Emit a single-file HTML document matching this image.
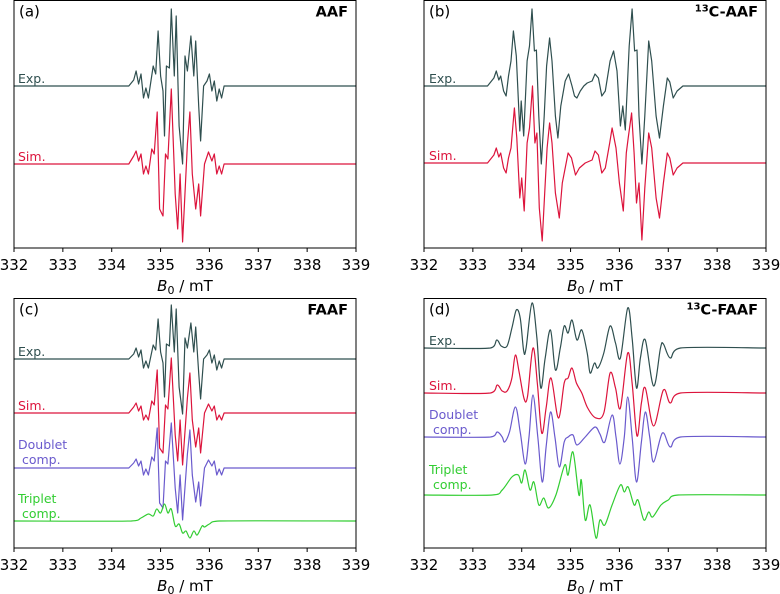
<!DOCTYPE html>
<html><head><meta charset="utf-8"><style>
body{margin:0;background:#fff;}
svg{display:block;font-family:"DejaVu Sans","Liberation Sans",sans-serif;}
</style></head><body>
<svg id="fig" width="780" height="594" viewBox="0 0 780 594" xmlns="http://www.w3.org/2000/svg"></svg>
<script>
// ---- data: field (mT) and signal amplitude (arbitrary units) ----
const aExpB=[332,334.35,334.45,334.5,334.55,334.6,334.65,334.7,334.75,334.85,334.9,334.95,335.0,335.05,335.08,335.12,335.18,335.22,335.28,335.32,335.38,335.45,335.5,335.55,335.62,335.68,335.72,335.78,335.82,335.88,335.95,336.0,336.05,336.1,336.15,336.2,336.25,336.3,339];
const aExpV=[0,0,6,15,2,12,-12,-2,-12,20,12,55,10,-5,-50,20,18,77,10,70,-40,-78,30,15,50,10,45,-20,-55,0,5,12,-5,5,-15,-3,-12,0,0];
const aSimB=[332,334.35,334.45,334.5,334.55,334.6,334.65,334.7,334.75,334.82,334.87,334.93,334.98,335.05,335.1,335.15,335.22,335.3,335.35,335.4,335.45,335.55,335.6,335.65,335.72,335.78,335.82,335.9,335.98,336.05,336.1,336.15,336.2,336.25,336.3,339];
const aSimV=[0,0,8,13,3,10,-10,-2,-10,15,10,52,-45,-52,10,5,75,-30,-65,-10,-78,20,52,-10,-45,-20,-52,0,12,3,10,-10,-2,-10,0,0];

const bExpB=[332,333.3,333.43,333.48,333.53,333.57,333.63,333.68,333.73,333.78,333.83,333.89,333.96,333.99,334.04,334.11,334.16,334.21,334.26,334.3,334.35,334.4,334.46,334.51,334.57,334.62,334.69,334.74,334.8,334.89,334.96,335.03,335.08,335.13,335.2,335.27,335.34,335.44,335.5,335.57,335.64,335.71,335.81,335.88,335.95,336.02,336.07,336.12,336.2,336.26,336.31,336.36,336.4,336.46,336.52,336.6,336.66,336.75,336.82,336.9,336.98,337.03,337.1,337.18,337.3,339];
const bExpV=[0,0,8,15,6,10,-5,-10,10,25,55,30,-45,-15,-50,25,40,77,35,36,-30,-78,-30,20,48,25,-30,-52,-20,5,12,0,-10,-12,-5,0,3,5,12,8,-10,-5,25,35,15,-40,-20,-44,40,77,35,36,-30,-78,-30,45,25,-30,-52,-20,8,4,-12,-5,0,0];
const bSimB=[332,333.3,333.43,333.48,333.53,333.57,333.63,333.68,333.73,333.78,333.85,333.9,333.96,334.0,334.05,334.11,334.16,334.22,334.27,334.31,334.36,334.42,334.47,334.52,334.57,334.62,334.69,334.77,334.83,334.95,335.02,335.1,335.18,335.3,335.44,335.5,335.57,335.64,335.71,335.8,335.85,335.93,336.0,336.08,336.14,336.18,336.25,336.3,336.35,336.4,336.46,336.52,336.6,336.66,336.75,336.82,336.9,336.98,337.03,337.1,337.18,337.3,339];
const bSimV=[0,0,8,15,6,10,-5,-10,5,15,55,25,-35,-15,-48,20,35,77,20,30,-45,-78,-30,15,40,20,-30,-55,-20,10,5,-12,-5,0,3,12,8,-10,-5,20,35,15,-20,-48,10,25,50,10,-40,-20,-77,-25,30,15,-35,-55,-20,10,5,-12,-5,0,0];

const cExpB=aExpB.slice();
const cExpV=[0,0,5,11,2,9,-9,-2,-9,14,9,40,7,-4,-38,15,13,54,7,50,-28,-55,21,11,36,7,32,-14,-40,0,4,9,-4,4,-11,-2,-9,0,0];
const cSimB=aSimB.slice();
const cSimV=[0,0,6,10,2,7,-7,-2,-7,12,8,43,-35,-40,8,4,55,-22,-48,-7,-52,15,40,-7,-34,-15,-40,0,9,2,7,-7,-2,-7,0,0];
const cDouB=aSimB.slice();
const cDouV=[0,0,5,9,2,7,-7,-1,-7,11,7,40,-35,-40,7,4,45,-20,-45,-7,-52,14,38,-7,-34,-14,-38,0,8,2,7,-7,-1,-7,0,0];
const cTriB=[332,334.4,334.6,334.75,334.85,334.92,335.0,335.08,335.15,335.22,335.3,335.38,335.45,335.52,335.6,335.68,335.75,335.85,335.9,336.0,336.2,339];
const cTriV=[0,0,3,7,5,12,8,17,8,12,-5,-3,-12,-10,-17,-10,-14,-5,-6,-3,0,0];

const dExpB=[332,333.36,333.49,333.58,333.7,333.8,333.89,333.97,334.04,334.09,334.21,334.31,334.39,334.48,334.59,334.69,334.79,334.87,334.95,335.03,335.13,335.23,335.34,335.4,335.49,335.56,335.68,335.81,335.92,336.02,336.17,336.26,336.35,336.43,336.53,336.7,336.84,336.9,337.04,337.25,339];
const dExpV=[0,0,8,2,2,20,38,30,-3,0,45,10,-40,-10,18,-22,0,22,15,28,8,18,-5,-25,-15,-20,-5,22,5,-10,40,10,-40,-10,8,-38,0,4,-10,0,0];
const dSimB=[332,333.36,333.5,333.6,333.7,333.8,333.87,333.95,334.05,334.12,334.23,334.32,334.41,334.5,334.6,334.75,334.87,334.95,335.03,335.12,335.23,335.35,335.52,335.68,335.81,335.92,336.02,336.17,336.26,336.36,336.45,336.53,336.7,336.9,337.04,337.25,339];
const dSimV=[0,0,8,2,2,15,38,20,-6,-3,45,10,-40,-15,15,-25,10,15,25,10,0,-15,-25,-20,20,5,-15,40,10,-43,-10,5,-33,3,-10,0,0];
const dDouB=[332,333.36,333.5,333.6,333.65,333.75,333.87,333.97,334.07,334.15,334.23,334.33,334.42,334.5,334.59,334.68,334.77,334.87,334.95,335.05,335.13,335.3,335.5,335.6,335.7,335.85,335.93,336.01,336.1,336.17,336.26,336.35,336.45,336.53,336.62,336.7,336.88,337.04,337.25,339];
const dDouV=[0,0,5,0,-5,5,30,5,-27,0,42,0,-45,-10,25,0,-30,-5,0,2,-8,0,10,3,-5,22,0,-27,0,40,0,-45,-5,25,0,-25,4,-10,0,0];
const dTriB=[332,333.4,333.6,333.8,333.93,334.0,334.07,334.17,334.25,334.35,334.45,334.55,334.7,334.88,334.95,335.05,335.17,335.22,335.3,335.4,335.52,335.6,335.7,335.85,336.02,336.1,336.18,336.3,336.38,336.5,336.6,336.68,336.85,337.0,337.2,339];
const dTriV=[0,0,5,18,20,12,25,5,13,-10,-3,-13,0,30,20,43,0,15,-25,-10,-43,-25,-30,-10,10,3,8,-10,-5,-25,-17,-22,-10,-5,0,0];

const ticks=[332,333,334,335,336,337,338,339];

const NS="http://www.w3.org/2000/svg";
const svg=document.getElementById('fig');
function mk(tag,attrs,parent){const e=document.createElementNS(NS,tag);for(const k in attrs)e.setAttribute(k,attrs[k]);(parent||svg).appendChild(e);return e;}
function smoothPath(P){
  let d='M'+P[0][0].toFixed(1)+','+P[0][1].toFixed(1);
  for(let i=0;i<P.length-1;i++){
    const p0=P[Math.max(0,i-1)],p1=P[i],p2=P[i+1],p3=P[Math.min(P.length-1,i+2)];
    const t=0.5/3;
    let c1x=p1[0]+(p2[0]-p0[0])*t,c1y=p1[1]+(p2[1]-p0[1])*t;
    let c2x=p2[0]-(p3[0]-p1[0])*t,c2y=p2[1]-(p3[1]-p1[1])*t;
    c1x=Math.min(Math.max(c1x,p1[0]),p2[0]);c2x=Math.min(Math.max(c2x,p1[0]),p2[0]);
    d+=' C'+c1x.toFixed(1)+','+c1y.toFixed(1)+' '+c2x.toFixed(1)+','+c2y.toFixed(1)+' '+p2[0].toFixed(1)+','+p2[1].toFixed(1);
  }
  return d;
}

const panels=[
 {id:'a',x0:14,x1:356,y0:0.5,y1:248,letter:'(a)',name:'AAF',sup:'',
  traces:[{B:aExpB,V:aExpV,base:86,c:'#2f4f4f',lab:['Exp.'],ly:83,lx:18},{B:aSimB,V:aSimV,base:164,c:'#dc143c',lab:['Sim.'],ly:161,lx:18}]},
 {id:'b',x0:424,x1:766,y0:0.5,y1:248,letter:'(b)',name:'C-AAF',sup:'13',
  traces:[{B:bExpB,V:bExpV,base:86,c:'#2f4f4f',lab:['Exp.'],ly:83,lx:429},{B:bSimB,V:bSimV,base:163,c:'#dc143c',lab:['Sim.'],ly:160,lx:429}]},
 {id:'c',x0:14,x1:356,y0:298.5,y1:548,letter:'(c)',name:'FAAF',sup:'',
  traces:[{B:cExpB,V:cExpV,base:359,c:'#2f4f4f',lab:['Exp.'],ly:356,lx:18},{B:cSimB,V:cSimV,base:413,c:'#dc143c',lab:['Sim.'],ly:410,lx:18},
   {B:cDouB,V:cDouV,base:468,c:'#6a5acd',lab:['Doublet',' comp.'],ly:449,lx:18},{B:cTriB,V:cTriV,base:521,c:'#32cd32',lab:['Triplet',' comp.'],ly:503,lx:18,smooth:true}]},
 {id:'d',x0:424,x1:766,y0:298.5,y1:548,letter:'(d)',name:'C-FAAF',sup:'13',
  traces:[{B:dExpB,V:dExpV,base:348,c:'#2f4f4f',lab:['Exp.'],ly:345,lx:429,smooth:true},{B:dSimB,V:dSimV,base:393,c:'#dc143c',lab:['Sim.'],ly:390,lx:429,smooth:true},
   {B:dDouB,V:dDouV,base:437,c:'#6a5acd',lab:['Doublet',' comp.'],ly:419,lx:429,smooth:true},{B:dTriB,V:dTriV,base:495,c:'#32cd32',lab:['Triplet',' comp.'],ly:474,lx:429,smooth:true}]}
];
const sname={'#2f4f4f':'exp','#dc143c':'sim','#6a5acd':'doublet','#32cd32':'triplet'};
panels.forEach(p=>{
  const g=mk('g',{});
  
  
  const xs=B=>p.x0+(B-332)/7*(p.x1-p.x0);
  p.traces.forEach(t=>{
    const P=t.B.map((b,i)=>[xs(b),t.base-t.V[i]]);
    let pl;
    if(t.smooth){
      pl=mk('path',{d:smoothPath(P),fill:'none',stroke:t.c,'stroke-width':1.2,'stroke-linejoin':'round'},g);
    }else{
      pl=mk('polyline',{points:P.map(q=>q[0].toFixed(1)+','+q[1].toFixed(1)).join(' '),fill:'none',stroke:t.c,'stroke-width':1.2,'stroke-linejoin':'round'},g);
    }
    
    
    t.lab.forEach((s,k)=>{
      const tx=mk('text',{x:t.lx,y:t.ly+k*15,fill:t.c,'font-size':12.5},g);
      tx.textContent=s.replace(/^ /,'\u00a0');
      
      
    });
  });
  const fr=mk('rect',{x:p.x0,y:p.y0,width:p.x1-p.x0,height:p.y1-p.y0,fill:'none',stroke:'#000','stroke-width':1},g);
  
  
  ticks.forEach(tv=>{
    const x=xs(tv);
    const tk=mk('line',{x1:x,x2:x,y1:p.y1,y2:p.y1+4,stroke:'#000','stroke-width':1},g);
    
    
    const tl=mk('text',{x:x,y:p.y1+22,'text-anchor':'middle','font-size':15,fill:'#000'},g);
    tl.textContent=tv;
    
    
  });
  const xt=mk('text',{x:(p.x0+p.x1)/2,y:p.y1+43,'text-anchor':'middle','font-size':15,fill:'#000'},g);
  xt.innerHTML='<tspan font-style="italic">B</tspan><tspan font-size="11" dy="3">0</tspan><tspan dy="-3"> / mT</tspan>';
  
  
  const pl=mk('text',{x:p.x0+5,y:p.y0+16,'font-size':15,fill:'#000'},g);
  pl.textContent=p.letter;
  
  
  const nm=mk('text',{x:p.x1-8,y:p.y0+16,'text-anchor':'end','font-size':14.5,'font-weight':'bold',fill:'#000'},g);
  nm.innerHTML=(p.sup?'<tspan font-size="10" dy="-5">'+p.sup+'</tspan><tspan dy="5">'+p.name+'</tspan>':p.name);
  
  
});
</script>
</body></html>
